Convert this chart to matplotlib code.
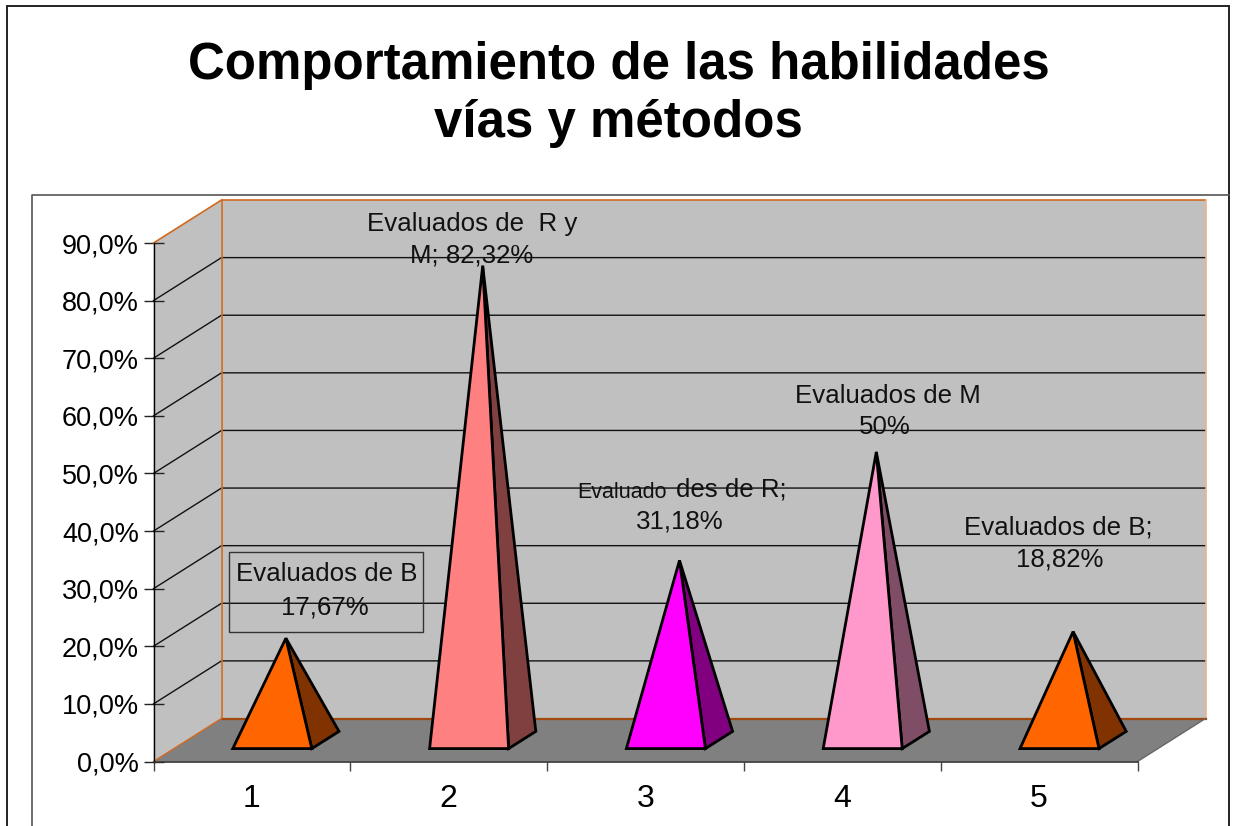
import matplotlib
matplotlib.use("Agg")
import matplotlib.pyplot as plt
from matplotlib.patches import Polygon, Rectangle
from matplotlib.lines import Line2D

categories = [1, 2, 3, 4, 5]
values = [17.67, 82.32, 31.18, 50.0, 18.82]
front_colors = ["#FF6600", "#FF8080", "#FF00FF", "#FF99CC", "#FF6600"]
side_colors = ["#803300", "#804040", "#800080", "#804D66", "#803300"]
y_ticks = [0, 10, 20, 30, 40, 50, 60, 70, 80, 90]
y_labels = ["0,0%", "10,0%", "20,0%", "30,0%", "40,0%", "50,0%", "60,0%", "70,0%", "80,0%", "90,0%"]
title_lines = ["Comportamiento de las habilidades", "vías y métodos"]

W, H = 1235, 826
plt.rcParams["font.family"] = ["Liberation Sans", "DejaVu Sans"]
fig = plt.figure(figsize=(W / 100, H / 100), dpi=100, facecolor="white")

def fx(x):
    return x / W

def fy(y):
    return 1 - y / H

# chart frames
fig.add_artist(Rectangle((fx(7), fy(830)), fx(1229 - 7), 824 / H, transform=fig.transFigure,
                         fill=False, ec="#222222", lw=1.4))
fig.add_artist(Line2D([fx(32), fx(32), fx(1229)], [fy(830), fy(195), fy(195)],
                      transform=fig.transFigure, color="#555555", lw=1.2))

x0, x1, ytop, ybot = 153.5, 1137.5, 243, 761.5
ax = fig.add_axes([fx(x0), fy(ybot), (x1 - x0) / W, (ybot - ytop) / H])
ax.set_xlim(0.5, 5.5)
ax.set_ylim(0, 90)
ax.patch.set_visible(False)

dx = 68 / ((x1 - x0) / 5)
dy = 43 / ((ybot - ytop) / 90)
xl, xr = 0.5, 5.5
ORANGE = "#D2691E"

# walls and floor
ax.add_patch(Polygon([(xl + dx, dy), (xr + dx, dy), (xr + dx, 90 + dy), (xl + dx, 90 + dy)],
                     fc="#C0C0C0", ec="none", clip_on=False, zorder=1))
ax.add_patch(Polygon([(xl, 0), (xl + dx, dy), (xl + dx, 90 + dy), (xl, 90)],
                     fc="#C0C0C0", ec="none", clip_on=False, zorder=1))
ax.add_patch(Polygon([(xl, 0), (xr, 0), (xr + dx, dy), (xl + dx, dy)],
                     fc="#808080", ec="none", clip_on=False, zorder=1))

# gridlines
for v in y_ticks[1:-1]:
    ax.plot([xl, xl + dx, xr + dx], [v, v + dy, v + dy], color="#111111", lw=1.0, clip_on=False, zorder=2)

# wall edges
ax.plot([xl, xl + dx, xr + dx], [90, 90 + dy, 90 + dy], color=ORANGE, lw=1.2, clip_on=False, zorder=2)
ax.plot([xl + dx, xl + dx], [dy, 90 + dy], color=ORANGE, lw=1.2, clip_on=False, zorder=2)
ax.plot([xr + dx, xr + dx], [dy, 90 + dy], color="#F4B183", lw=1.2, clip_on=False, zorder=2)
ax.plot([xl + dx, xr + dx], [dy, dy], color="#A0480F", lw=1.6, clip_on=False, zorder=2)
ax.plot([xl, xl + dx], [0, dy], color=ORANGE, lw=1.0, clip_on=False, zorder=2)
ax.plot([xr, xr + dx], [0, dy], color="#666666", lw=1.0, clip_on=False, zorder=2)

# pyramids
half = 39.5 / ((x1 - x0) / 5)
d_front, d_mid, d_rear = 0.30, 0.50, 0.70
for c, v, fc, sc in zip(categories, values, front_colors, side_colors):
    apex = (c + d_mid * dx, v + d_mid * dy)
    fl = (c - half + d_front * dx, d_front * dy)
    fr = (c + half + d_front * dx, d_front * dy)
    rr = (c + half + d_rear * dx, d_rear * dy)
    ax.add_patch(Polygon([fr, rr, apex], fc=sc, ec="black", lw=2.0, joinstyle="miter",
                         clip_on=False, zorder=4))
    ax.add_patch(Polygon([fl, fr, apex], fc=fc, ec="black", lw=2.0, joinstyle="miter",
                         clip_on=False, zorder=5))

# axes
for s in ("top", "right"):
    ax.spines[s].set_visible(False)
ax.spines["left"].set_color("black")
ax.spines["left"].set_linewidth(1.0)
ax.spines["bottom"].set_color("#333333")
ax.spines["bottom"].set_linewidth(1.2)
ax.set_yticks(y_ticks)
ax.set_yticklabels(y_labels)
ax.tick_params(axis="y", direction="inout", length=14, width=1.0, labelsize=19.5, pad=3.5, color="#222222")
ax.set_xticks(categories)
ax.set_xticklabels([str(c) for c in categories])
ax.tick_params(axis="x", which="major", length=0, labelsize=23, pad=16)
ax.set_xticks([0.5, 1.5, 2.5, 3.5, 4.5, 5.5], minor=True)
ax.tick_params(axis="x", which="minor", direction="out", length=6.5, width=1.0, color="#444444")
for sp in ax.spines.values():
    sp.set_zorder(3)

# title
for line, y in zip(title_lines, [65, 123]):
    fig.text(fx(618.5), fy(y), line, ha="center", va="center", fontsize=36.7, fontweight="bold", color="black")

# data labels
labels = [
    (472, 224, "Evaluados de  R y", 18.6),
    (472, 255, "M; 82,32%", 18.6),
    (327, 574, "Evaluados de B", 18.6),
    (325, 607, "17,67%", 18.6),
    (622, 492, "Evaluado", 15.5),
    (731, 490, "des de R;", 18.6),
    (680, 522, "31,18%", 18.6),
    (888, 396, "Evaluados de M", 18.6),
    (885, 427, "50%", 18.6),
    (1058, 527, "Evaluados de B;", 18.6),
    (1060, 559, "18,82%", 18.6),
]
for x, y, s, size in labels:
    fig.text(fx(x), fy(y), s, ha="center", va="center", fontsize=size, color="#111111", zorder=10)

fig.add_artist(Rectangle((fx(228.5), fy(631.5)), 194 / W, 79.5 / H, transform=fig.transFigure,
                         fill=False, ec="#333333", lw=1.0, zorder=9))

fig.savefig("out.png", dpi=100)
